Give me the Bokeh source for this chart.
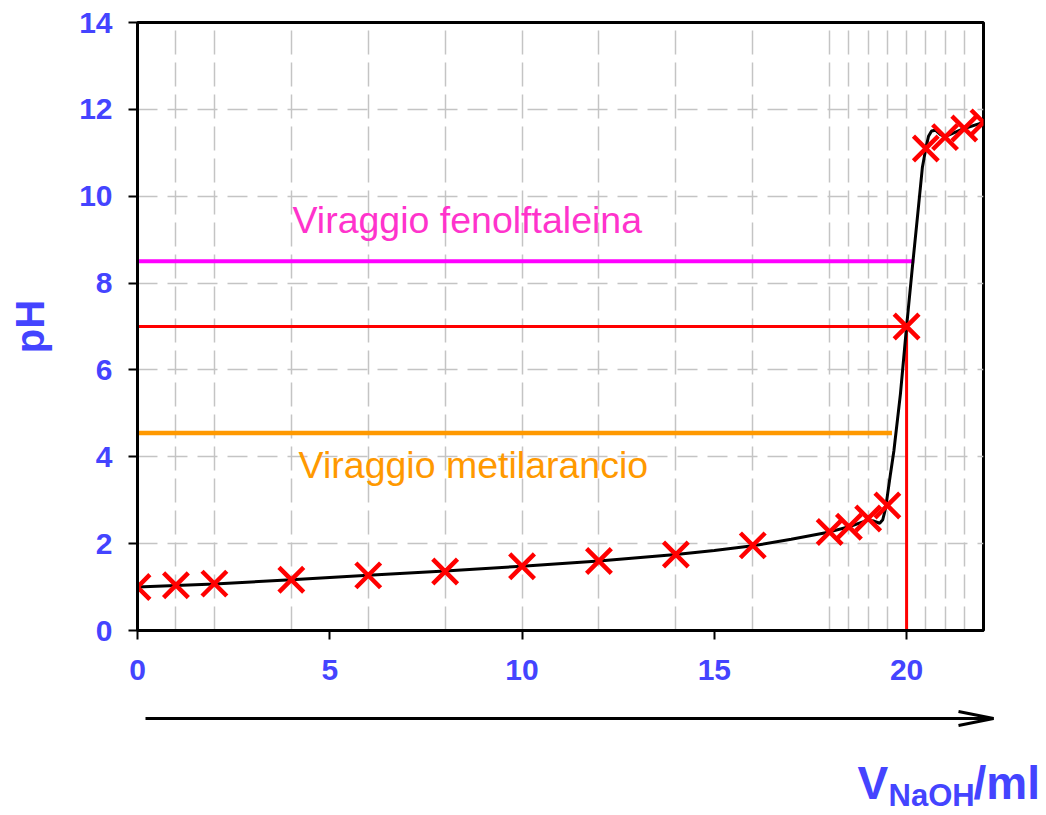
from bokeh.plotting import figure
from bokeh.layouts import column, row
from bokeh.models import Range1d, FixedTicker, Label
from bokeh.embed import file_html
from bokeh.resources import INLINE

# ---- data ----
volume = [0, 1, 2, 4, 6, 8, 10, 12, 14, 16, 18, 18.5, 19, 19.5, 20, 20.5, 21, 21.5, 22]
ph = [1.0, 1.04, 1.08, 1.17, 1.27, 1.36, 1.48, 1.6, 1.75, 1.96, 2.27, 2.39, 2.58, 2.88,
      7.0, 11.1, 11.36, 11.56, 11.7]

curve_x = [0, 2, 4, 6, 8, 10, 12, 14, 15, 16, 17, 18, 18.5, 19, 19.15, 19.3, 19.38, 19.45,
           19.5, 19.58, 19.67, 19.84, 20.0, 20.15, 20.28, 20.41, 20.5, 20.57, 20.65,
           20.75, 20.88, 21.0, 21.5, 22]
curve_y = [1.0, 1.07, 1.17, 1.27, 1.37, 1.48, 1.6, 1.75, 1.84, 1.95, 2.1, 2.27, 2.39, 2.54,
           2.52, 2.47, 2.55, 2.8, 3.1, 3.6, 4.14, 5.45, 7.0, 8.36, 9.5, 10.66, 11.1,
           11.38, 11.5, 11.52, 11.42, 11.37, 11.56, 11.7]

x_ticks = [0, 5, 10, 15, 20]
y_ticks = [0, 2, 4, 6, 8, 10, 12, 14]
y_grid = [2, 4, 6, 8, 10, 12]

phenol_ph, phenol_end = 8.5, 20.2
equiv_ph, equiv_v = 7.0, 20.0
metil_ph, metil_end = 4.55, 19.62

BLUE = "#4444ff"
FONT = "Liberation Sans"

p = figure(frame_width=846, frame_height=608,
           min_border_left=137, min_border_right=63, min_border_top=22,
           min_border_bottom=70,
           x_range=Range1d(0, 22), y_range=Range1d(0, 14),
           output_backend="svg", toolbar_location=None, background_fill_color="white",
           border_fill_color="white")

p.outline_line_color = "black"
p.outline_line_width = 3

# grid
p.xgrid.ticker = FixedTicker(ticks=volume)
p.ygrid.ticker = FixedTicker(ticks=y_grid)
for g, dash in ((p.xgrid, "24 8"), (p.ygrid, "20 10")):
    g.grid_line_color = "#c4c4c4"
    g.grid_line_width = 1.5
    g.grid_line_dash = dash

# axes
p.xaxis.ticker = FixedTicker(ticks=x_ticks)
p.yaxis.ticker = FixedTicker(ticks=y_ticks)
for ax in (p.xaxis, p.yaxis):
    ax.axis_line_width = 3
    ax.axis_line_color = "black"
    ax.major_tick_line_width = 2
    ax.major_tick_line_color = "black"
    ax.major_tick_out = 9
    ax.major_tick_in = 0
    ax.minor_tick_line_color = None
    ax.major_label_text_font = FONT
    ax.major_label_text_font_style = "bold"
    ax.major_label_text_font_size = "30px"
    ax.major_label_text_color = BLUE
p.xaxis.major_label_standoff = 20
p.yaxis.major_label_standoff = 16
p.yaxis.axis_label = "pH"
p.yaxis.axis_label_text_font = FONT
p.yaxis.axis_label_text_font_style = "bold"
p.yaxis.axis_label_text_font_size = "40px"
p.yaxis.axis_label_text_color = BLUE
p.yaxis.axis_label_standoff = 24

# indicator lines
p.line([0, phenol_end], [phenol_ph, phenol_ph], line_color="#ff00ff", line_width=4)
p.line([0, equiv_v], [equiv_ph, equiv_ph], line_color="#ff0000", line_width=3)
p.line([equiv_v, equiv_v], [0, equiv_ph], line_color="#ff0000", line_width=3)
p.line([0, metil_end], [metil_ph, metil_ph], line_color="#ff9900", line_width=4.5)

# titration curve and measured points
p.line(curve_x, curve_y, line_color="black", line_width=3)
p.scatter(volume, ph, marker="x", size=35, line_color="#ff0000", line_width=4.5)

# texts
p.add_layout(Label(x=4.03, y=9.46, text="Viraggio fenolftaleina", text_font=FONT,
                   text_font_size="37.5px", text_color="#ff33cc", text_baseline="middle"))
p.add_layout(Label(x=4.19, y=3.82, text="Viraggio metilarancio", text_font=FONT,
                   text_font_size="37.5px", text_color="#ff9900", text_baseline="middle"))

# ---- strip below the chart: arrow and axis title (y = -pixel row) ----
q = figure(frame_width=1046, frame_height=113, min_border=0,
           x_axis_location=None, y_axis_location=None,
           x_range=Range1d(0, 1046), y_range=Range1d(-813, -700),
           output_backend="svg", toolbar_location=None)
q.grid.visible = False
q.outline_line_color = None

ay = -718
q.line([145, 993], [ay, ay], line_color="black", line_width=3)
q.line([958, 993, 958], [ay + 7, ay, ay - 7], line_color="black", line_width=3)

q.add_layout(Label(x=857, y=-782, text="V", text_font=FONT, text_font_style="bold",
                   text_font_size="46px", text_color=BLUE, text_baseline="middle"))
q.add_layout(Label(x=888, y=-795, text="NaOH", text_font=FONT, text_font_style="bold",
                   text_font_size="31px", text_color=BLUE, text_baseline="middle"))
q.add_layout(Label(x=973, y=-782, text="/ml", text_font=FONT, text_font_style="bold",
                   text_font_size="46px", text_color=BLUE, text_baseline="middle"))

open("out.html", "w").write(file_html(column(p, row(q), spacing=0), INLINE))
